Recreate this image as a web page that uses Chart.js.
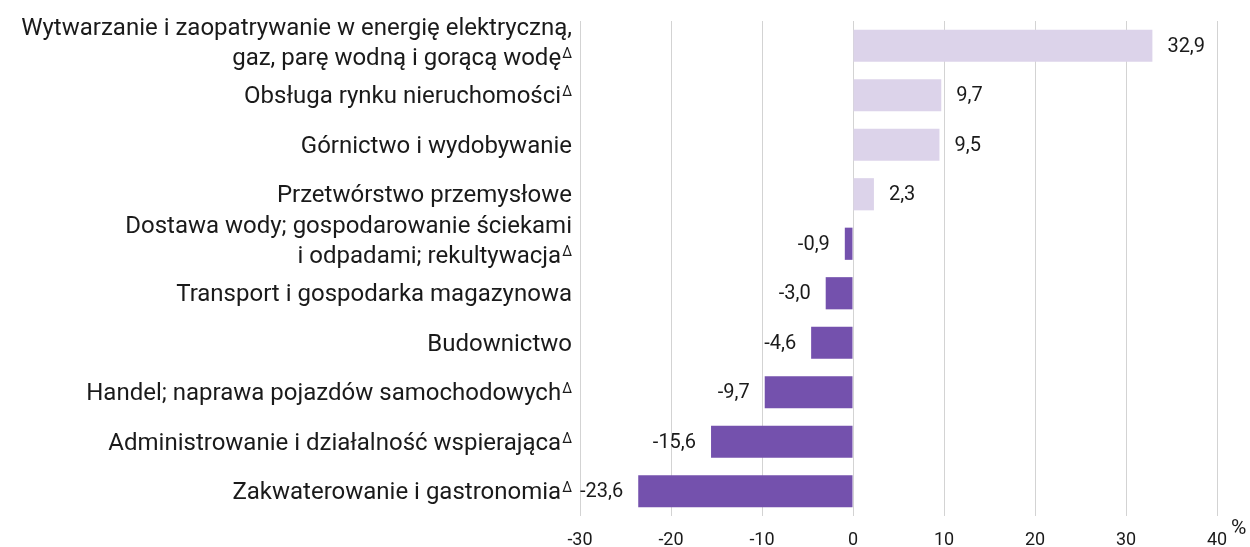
<!DOCTYPE html>
<html>
<head>
<meta charset="utf-8">
<script src="https://cdn.jsdelivr.net/npm/chart.js@4"></script>
<style>
  html, body { margin: 0; padding: 0; background: #fff; }
  #wrap { width: 1250px; height: 547px; }
</style>
</head>
<body>
<div id="wrap"><canvas id="chart-area"></canvas></div>
<script>
const categories = [
  ['Wytwarzanie i zaopatrywanie w energię elektryczną,', 'gaz, parę wodną i gorącą wodę'],
  ['Obsługa rynku nieruchomości'],
  ['Górnictwo i wydobywanie'],
  ['Przetwórstwo przemysłowe'],
  ['Dostawa wody; gospodarowanie ściekami', 'i odpadami; rekultywacja'],
  ['Transport i gospodarka magazynowa'],
  ['Budownictwo'],
  ['Handel; naprawa pojazdów samochodowych'],
  ['Administrowanie i działalność wspierająca'],
  ['Zakwaterowanie i gastronomia']
];
const deltaMarks = [true, true, false, false, true, false, false, true, true, true];
const values = [32.9, 9.7, 9.5, 2.3, -0.9, -3.0, -4.6, -9.7, -15.6, -23.6];
const xMin = -30;
const xMax = 40;
const xStep = 10;
const unitLabel = '%';

const FONT = 'Roboto, "Noto Sans", sans-serif';
const lightColor = '#dcd3ea';
const darkColor = '#7451ad';

function fmt(v) {
  return v.toFixed(1).replace('.', ',');
}

// etykiety kategorii z indeksem górnym ∆
const categoryLabels = {
  id: 'categoryLabels',
  afterDraw(chart) {
    const ctx = chart.ctx;
    const yScale = chart.scales.y;
    const right = 572;
    const lh = 30;
    ctx.save();
    ctx.fillStyle = '#1a1a1a';
    ctx.textBaseline = 'alphabetic';
    categories.forEach((lines, i) => {
      const cy = yScale.getPixelForValue(i);
      let y = lines.length > 1 ? cy - 11 : cy + 8;
      lines.forEach((line, j) => {
        let r = right;
        if (deltaMarks[i] && j === lines.length - 1) {
          ctx.font = '14px ' + FONT;
          ctx.textAlign = 'right';
          ctx.fillText('∆', r, y - 7);
          r -= ctx.measureText('∆').width + 1;
        }
        ctx.font = '24px ' + FONT;
        ctx.textAlign = 'right';
        ctx.fillText(line, r, y);
        y += lh;
      });
    });
    ctx.restore();
  }
};

const valueLabels = {
  id: 'valueLabels',
  afterDatasetsDraw(chart) {
    const ctx = chart.ctx;
    const meta = chart.getDatasetMeta(0);
    ctx.save();
    ctx.font = '20px ' + FONT;
    ctx.fillStyle = '#1a1a1a';
    ctx.textBaseline = 'middle';
    meta.data.forEach((bar, i) => {
      const v = values[i];
      if (v >= 0) {
        ctx.textAlign = 'left';
        ctx.fillText(fmt(v), bar.x + 15, bar.y + 1);
      } else {
        ctx.textAlign = 'right';
        ctx.fillText(fmt(v), bar.x - 15, bar.y + 1);
      }
    });
    // jednostka osi
    ctx.font = '21px ' + FONT;
    ctx.textAlign = 'left';
    ctx.textBaseline = 'alphabetic';
    ctx.fillText(unitLabel, chart.chartArea.right + 14, chart.chartArea.bottom + 18);
    ctx.restore();
  }
};

var ctx = document.getElementById('chart-area').getContext('2d');
var chart = new Chart(ctx, {
  type: 'bar',
  data: {
    labels: categories.map(l => l.join(' ')),
    datasets: [{
      data: values,
      backgroundColor: values.map(v => v >= 0 ? lightColor : darkColor),
      borderWidth: 0,
      barPercentage: 0.65,
      categoryPercentage: 1
    }]
  },
  options: {
    indexAxis: 'y',
    responsive: true,
    maintainAspectRatio: false,
    animation: false,
    layout: { padding: { top: 21, right: 33, left: 0, bottom: 0 } },
    plugins: {
      legend: { display: false },
      tooltip: { enabled: false }
    },
    scales: {
      x: {
        min: xMin,
        max: xMax,
        ticks: {
          stepSize: xStep,
          padding: 14,
          color: '#1a1a1a',
          font: { family: FONT, size: 18 }
        },
        grid: { color: '#d3d3d3', lineWidth: 1, drawTicks: false },
        border: { display: false },
        afterFit(scale) { scale.height = 31; }
      },
      y: {
        ticks: { display: false },
        grid: { display: false },
        border: { display: false },
        afterFit(scale) { scale.width = 580; }
      }
    }
  },
  plugins: [categoryLabels, valueLabels]
});
</script>
</body>
</html>
